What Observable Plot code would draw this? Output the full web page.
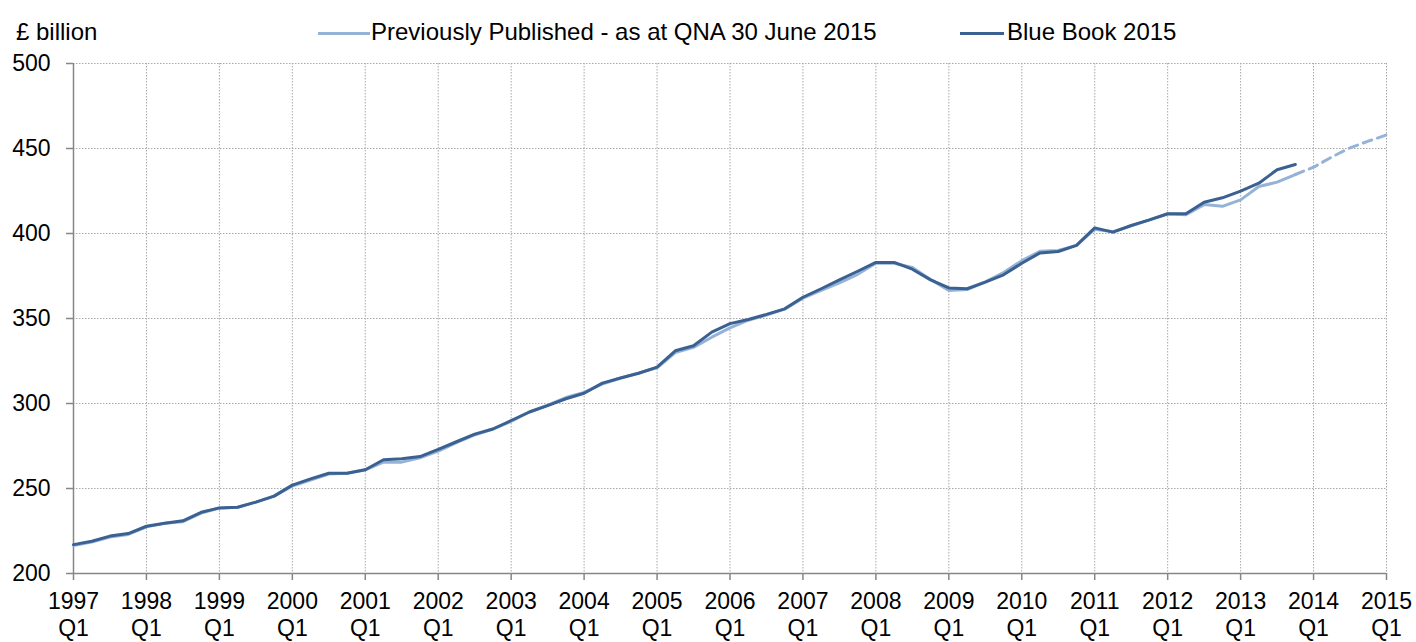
<!DOCTYPE html>
<html>
<head>
<meta charset="utf-8">
<script src="https://cdn.jsdelivr.net/npm/d3@7"></script>
<script src="https://cdn.jsdelivr.net/npm/@observablehq/plot@0.6"></script>
<style>
  body { margin: 0; background: #fff; font-family: "Liberation Sans", Arial, sans-serif; }
  #wrap { position: relative; width: 1416px; height: 642px; overflow: hidden; }
  #head { position: relative; height: 50px; font-size: 24px; line-height: 24px; color: #000; }
  .abs { position: absolute; white-space: nowrap; top: 20px; }
  .sw { position: absolute; height: 3px; top: 31.5px; }
</style>
</head>
<body>
<div id="wrap">
  <div id="head">
    <span class="abs" id="unit" style="left:16px;"></span>
    <span class="sw" id="sw0" style="left:318px; width:52px;"></span>
    <span class="abs" id="lg0" style="left:371px;"></span>
    <span class="sw" id="sw1" style="left:960px; width:44px;"></span>
    <span class="abs" id="lg1" style="left:1007px;"></span>
  </div>
  <div id="chart"></div>
</div>
<script>
// ---- data ----
const unitLabel = "£ billion";
const seriesNames = ["Previously Published - as at QNA 30 June 2015", "Blue Book 2015"];
const seriesColors = ["#95b3d7", "#3a6192"];
const firstYear = 1997; // first quarter is 1997 Q1, one value per quarter
// Blue Book 2015, 1997 Q1 - 2013 Q4
const blueBook = [
  217, 219, 222, 223.5,
  227.8, 229.6, 231, 236,
  238.6, 239, 242, 245.5,
  252, 255.7, 259, 259,
  261, 266.9, 267.5, 268.8,
  273, 277.5, 282, 285,
  290, 295, 298.8, 302.8,
  306, 312, 315, 317.8,
  321.4, 331, 334, 342,
  347, 349.4, 352.4, 355.7,
  362.5, 367.5, 372.7, 377.8,
  383, 383, 379, 372.7,
  368, 367.5, 371.4, 375.7,
  382.5, 388.6, 389.4, 393,
  403.3, 400.8, 404.7, 408,
  411.6, 411.6, 418.4, 421,
  424.9, 429.6, 437.5, 440.6
];
// Previously published (QNA 30 June 2015), 1997 Q1 - 2015 Q1
const previous = [
  216.5, 218.5, 221.5, 223,
  227.5, 229.5, 230.5, 235.5,
  238.5, 239, 242, 245.5,
  251.5, 255, 258.5, 259,
  261, 265.5, 265.5, 268,
  272, 277, 281.5, 285,
  289.5, 295, 299, 303.5,
  306.5, 311.5, 315, 318,
  321, 330, 333, 339,
  344.5, 349, 352, 355.5,
  362, 366.5, 371, 376,
  382.5, 382.5, 380, 373,
  366.5, 367, 371.5, 377,
  384, 389.5, 390, 393,
  402.5, 401, 404.5, 408,
  411.5, 411, 417, 416,
  419.8, 427.6, 430.2, 434.7,
  439, 445, 450.4, 454.3,
  458
];
const yTicks = [200, 250, 300, 350, 400, 450, 500];
const xTickYears = [1997, 1998, 1999, 2000, 2001, 2002, 2003, 2004, 2005, 2006,
                    2007, 2008, 2009, 2010, 2011, 2012, 2013, 2014, 2015];
const xTickQuarter = "Q1";

// ---- header (legend & unit) ----
document.getElementById("unit").textContent = unitLabel;
document.getElementById("lg0").textContent = seriesNames[0];
document.getElementById("lg1").textContent = seriesNames[1];
document.getElementById("sw0").style.background = seriesColors[0];
document.getElementById("sw1").style.background = seriesColors[1];

// ---- chart ----
const toRows = vals => vals.map((v, i) => ({t: firstYear + i / 4, v}));
const bb = toRows(blueBook);
const pp = toRows(previous);
const ppSolid = pp.slice(0, blueBook.length);
const ppDash = pp.slice(blueBook.length - 1);

const gridStyle = {stroke: "#a8a8a8", strokeOpacity: 1, strokeWidth: 1, strokeDasharray: "1.5,1.5"};
const axisColor = "#868686";

const chart = Plot.plot({
  width: 1416,
  height: 592,
  marginLeft: 73,
  marginRight: 30,
  marginTop: 13,
  marginBottom: 69,
  style: {fontFamily: "'Liberation Sans', Arial, sans-serif", fontSize: "23px", color: "#000", background: "#fff"},
  x: {domain: [xTickYears[0], xTickYears[xTickYears.length - 1]]},
  y: {domain: [yTicks[0], yTicks[yTicks.length - 1]]},
  marks: [
    Plot.gridY(yTicks.slice(1), gridStyle),
    Plot.gridX(xTickYears.slice(1), gridStyle),
    Plot.axisY({ticks: yTicks, tickSize: 7, tickPadding: 16, stroke: axisColor, strokeWidth: 1.5, fill: "#000", label: null, fontSize: 23}),
    Plot.axisX({ticks: xTickYears, tickSize: 7, tickPadding: 9, stroke: axisColor, strokeWidth: 1.5, fill: "#000", label: null,
                fontSize: 23, lineHeight: 1.17, tickFormat: d => `${d}\n${xTickQuarter}`}),
    Plot.ruleX([xTickYears[0]], {stroke: axisColor, strokeWidth: 1.5}),
    Plot.ruleY([yTicks[0]], {stroke: axisColor, strokeWidth: 1.5}),
    Plot.line(ppSolid, {x: "t", y: "v", stroke: seriesColors[0], strokeWidth: 3}),
    Plot.line(ppDash, {x: "t", y: "v", stroke: seriesColors[0], strokeWidth: 3, strokeDasharray: "9,6"}),
    Plot.line(bb, {x: "t", y: "v", stroke: seriesColors[1], strokeWidth: 3})
  ]
});
document.getElementById("chart").appendChild(chart);
</script>
</body>
</html>
